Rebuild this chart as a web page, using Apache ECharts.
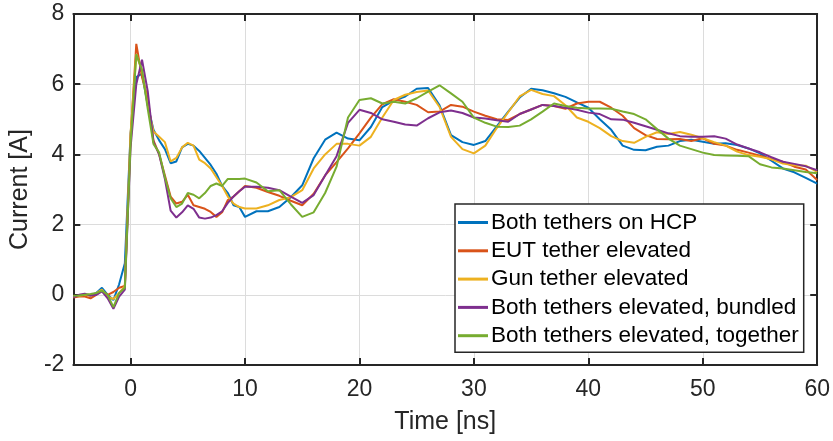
<!DOCTYPE html>
<html>
<head>
<meta charset="utf-8">
<script src="https://cdn.jsdelivr.net/npm/echarts@6/dist/echarts.min.js"></script>
<style>html,body{margin:0;padding:0;background:#fff;}#c{width:833px;height:441px;}</style>
</head>
<body>
<div id="c"></div>
<script>
// Time axis samples [ns]
const time = [-5,-4.5,-4,-3.5,-3,-2.5,-2,-1.5,-1,-0.5,0,0.5,1,1.5,2,2.5,3,3.5,4,4.5,5,5.5,6,6.5,7,7.5,8,8.5,9,9.5,10,
  11,12,13,14,15,16,17,18,19,20,21,22,23,24,25,26,27,28,29,30,31,32,33,34,35,36,37,38,39,40,
  41,42,43,44,45,46,47,48,49,50,51,52,53,54,55,56,57,58,59,60];

const seriesNames = ["Both tethers on HCP","EUT tether elevated","Gun tether elevated","Both tethers elevated, bundled","Both tethers elevated, together"];

const bothHCP = [-0.05,-0.03,0,-0.02,0.05,0.2,0.0,-0.15,0.3,0.9,4.6,6.2,6.3,5.4,4.7,4.4,4.15,3.75,3.8,4.2,4.3,4.25,4.1,3.9,3.7,3.45,3.1,2.9,2.55,2.5,2.22,
  2.38,2.38,2.5,2.78,3.12,3.89,4.42,4.62,4.45,4.4,
  4.78,5.35,5.53,5.65,5.87,5.89,5.4,4.55,4.35,4.27,
  4.38,4.8,5.22,5.62,5.87,5.83,5.74,5.64,5.48,5.33,
  5.0,4.7,4.25,4.13,4.12,4.22,4.25,4.38,4.42,4.36,
  4.3,4.32,4.27,4.17,4.03,3.82,3.6,3.49,3.33,3.17];

const eutElevated = [-0.08,-0.05,-0.05,-0.1,0.0,0.12,0.0,0.08,0.2,0.25,4.5,7.15,6.2,5.6,4.4,4.0,3.4,2.8,2.6,2.65,2.85,2.55,2.5,2.45,2.36,2.22,2.35,2.7,2.8,2.95,3.1,
  3.05,2.93,2.82,2.68,2.55,2.88,3.4,3.78,4.17,4.6,
  5.05,5.43,5.57,5.5,5.41,5.2,5.22,5.41,5.36,5.22,
  5.1,5.0,4.98,5.15,5.28,5.41,5.38,5.3,5.45,5.5,
  5.5,5.33,5.1,4.75,4.55,4.44,4.43,4.44,4.38,4.46,
  4.3,4.25,4.13,4.05,3.96,3.86,3.79,3.65,3.57,3.27];

const gunElevated = [-0.05,-0.03,0.0,-0.03,0.05,0.15,-0.05,-0.12,0.05,0.25,4.6,6.85,6.4,5.4,4.65,4.5,4.35,3.8,3.9,4.2,4.33,4.25,3.85,3.75,3.6,3.35,3.1,2.8,2.6,2.5,2.46,
  2.46,2.55,2.7,2.78,2.98,3.6,4.0,4.3,4.3,4.25,
  4.5,5.05,5.55,5.7,5.78,5.82,5.35,4.5,4.15,4.03,
  4.25,4.75,5.2,5.65,5.84,5.72,5.66,5.4,5.05,4.93,
  4.75,4.52,4.38,4.33,4.5,4.63,4.58,4.64,4.56,4.46,
  4.35,4.25,4.08,3.98,3.93,3.86,3.74,3.69,3.68,3.5];

const bundled = [-0.07,0.0,0.03,-0.02,0.0,0.1,-0.1,-0.4,-0.05,0.15,4.2,6.0,6.7,5.8,4.35,4.0,3.3,2.4,2.2,2.35,2.55,2.45,2.2,2.17,2.2,2.27,2.38,2.62,2.8,2.95,3.08,
  3.08,3.05,2.98,2.8,2.62,2.84,3.4,3.95,4.9,5.27,
  5.18,5.0,4.93,4.85,4.82,5.03,5.2,5.25,5.18,5.05,
  5.02,4.97,4.93,5.15,5.28,5.41,5.38,5.33,5.27,5.19,
  5.15,5.0,4.99,4.9,4.8,4.7,4.6,4.52,4.5,4.5,
  4.52,4.45,4.28,4.17,4.06,3.92,3.79,3.73,3.66,3.55];

const together = [-0.03,-0.02,0.0,0.02,0.05,0.12,0.0,-0.35,0.05,0.2,4.3,6.85,6.4,5.3,4.3,4.05,3.35,2.75,2.5,2.6,2.9,2.85,2.75,2.9,3.1,3.17,3.1,3.3,3.3,3.3,3.31,
  3.2,2.95,2.98,2.58,2.22,2.35,2.9,3.65,5.05,5.55,
  5.6,5.45,5.5,5.45,5.6,5.79,5.97,5.74,5.5,5.05,
  4.9,4.79,4.78,4.82,5.0,5.22,5.45,5.38,5.33,5.31,
  5.31,5.3,5.22,5.15,5.0,4.72,4.45,4.25,4.15,4.05,
  3.98,3.97,3.96,3.95,3.72,3.63,3.6,3.55,3.5,3.46];

const colors = ["#0072BD","#D95319","#EDB120","#7E2F8E","#77AC30"];
const allValues = [bothHCP, eutElevated, gunElevated, bundled, together];

const FONT = "'Liberation Sans', Arial, Helvetica, sans-serif";
const AX = "#262626";

const chart = echarts.init(document.getElementById('c'), null, {renderer: 'canvas'});

const xBase = {
  type: 'value', min: -5, max: 60,
  axisLine: {show: true, onZero: false, lineStyle: {color: AX, width: 2}},
  axisTick: {show: true, inside: true, length: 7, lineStyle: {color: AX, width: 2}},
};
const yBase = {
  type: 'value', min: -2, max: 8, interval: 2,
  axisLine: {show: true, onZero: false, lineStyle: {color: AX, width: 2}},
  axisTick: {show: true, inside: true, length: 7, lineStyle: {color: AX, width: 2}},
};

chart.setOption({
  animation: false,
  backgroundColor: '#fff',
  color: colors,
  grid: {left: 72, right: 13, top: 14, bottom: 76, containLabel: false},
  xAxis: [
    Object.assign({}, xBase, {
      position: 'bottom',
      name: 'Time [ns]', nameLocation: 'middle', nameGap: 45,
      nameTextStyle: {fontFamily: FONT, fontSize: 25, color: AX},
      axisLabel: {show: true, showMinLabel: false, fontFamily: FONT, fontSize: 23, color: AX, margin: 13},
      splitLine: {show: true, lineStyle: {color: '#dcdcdc', width: 1}}
    }),
    Object.assign({}, xBase, {
      position: 'top',
      axisLabel: {show: false},
      splitLine: {show: false}
    })
  ],
  yAxis: [
    Object.assign({}, yBase, {
      position: 'left',
      name: 'Current [A]', nameLocation: 'middle', nameGap: 35,
      nameTextStyle: {fontFamily: FONT, fontSize: 25, color: AX},
      axisLabel: {show: true, fontFamily: FONT, fontSize: 23, color: AX, margin: 9},
      splitLine: {show: true, lineStyle: {color: '#dcdcdc', width: 1}}
    }),
    Object.assign({}, yBase, {
      position: 'right',
      axisLabel: {show: false},
      splitLine: {show: false}
    })
  ],
  legend: {
    show: true,
    orient: 'vertical',
    left: 455, top: 204,
    padding: [7, 5, 5, 3],
    itemGap: 5.3,
    itemWidth: 30, itemHeight: 3,
    icon: 'rect',
    backgroundColor: '#fff',
    borderColor: AX, borderWidth: 1.5,
    textStyle: {fontFamily: FONT, fontSize: 22.5, color: '#000', lineHeight: 22, padding: [0,0,0,-2]},
    data: seriesNames
  },
  series: seriesNames.map((name, k) => ({
    name: name,
    type: 'line',
    xAxisIndex: 0, yAxisIndex: 0,
    symbol: 'none',
    showSymbol: false,
    clip: true,
    lineStyle: {width: 2, color: colors[k]},
    itemStyle: {color: colors[k]},
    data: time.map((t, i) => [t, allValues[k][i]])
  }))
});
</script>
</body>
</html>
